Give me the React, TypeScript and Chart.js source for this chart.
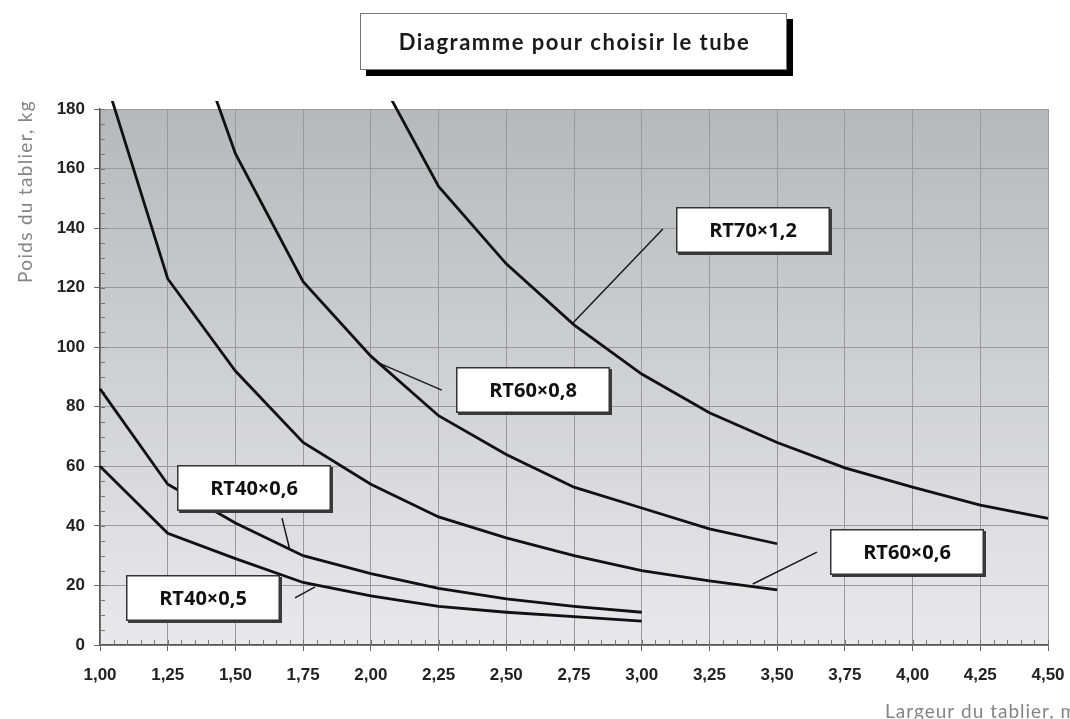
import React, { useEffect, useRef } from "react";
import { Chart, registerables } from "chart.js";

Chart.register(...registerables);

// ---- data ----
const widths40 = [1.0, 1.25, 1.5, 1.75, 2.0, 2.25, 2.5, 2.75, 3.0];
const rt40x05 = [60, 37.5, 29, 21, 16.5, 13, 11, 9.5, 8];
const rt40x06 = [86, 54, 41, 30, 24, 19, 15.5, 13, 11];

const widths60x06 = [1.0, 1.25, 1.5, 1.75, 2.0, 2.25, 2.5, 2.75, 3.0, 3.25, 3.5];
const rt60x06 = [196, 123, 92, 68, 54, 43, 36, 30, 25, 21.5, 18.5];

const widths60x08 = [1.25, 1.5, 1.75, 2.0, 2.25, 2.5, 2.75, 3.0, 3.25, 3.5];
const rt60x08 = [229, 165, 122, 97, 77, 64, 53, 46, 39, 34];

const widths70x12 = [2.0, 2.25, 2.5, 2.75, 3.0, 3.25, 3.5, 3.75, 4.0, 4.25, 4.5];
const rt70x12 = [196, 154, 128, 107.5, 91, 78, 68, 59.5, 53, 47, 42.5];

const seriesNames = ["RT40×0,5", "RT40×0,6", "RT60×0,6", "RT60×0,8", "RT70×1,2"];

const xTicks = [1.0, 1.25, 1.5, 1.75, 2.0, 2.25, 2.5, 2.75, 3.0, 3.25, 3.5, 3.75, 4.0, 4.25, 4.5];
const yTicks = [0, 20, 40, 60, 80, 100, 120, 140, 160, 180];

const chartTitle = "Diagramme pour choisir le tube";
const yTitle = "Poids du tablier, kg";
const xTitle = "Largeur du tablier, m";

// label callouts: box centre (data units) and leader line (data units)
const callouts = [
  { text: "RT70×1,2", cx: 3.412, cy: 139.4, from: [3.078, 139.7], to: [2.746, 108.1] },
  { text: "RT60×0,8", cx: 2.6, cy: 85.5, from: [2.262, 85.6], to: [2.022, 95.0] },
  { text: "RT40×0,6", cx: 1.57, cy: 52.7, from: [1.672, 42.6], to: [1.701, 31.9] },
  { text: "RT40×0,5", cx: 1.382, cy: 15.9, from: [1.72, 15.8], to: [1.794, 19.5] },
  { text: "RT60×0,6", cx: 3.981, cy: 31.1, from: [3.647, 31.2], to: [3.41, 20.5] },
];

const toPoints = (xs: number[], ys: number[]) => xs.map((x, i) => ({ x, y: ys[i] }));

const fmt = (v: number) => v.toFixed(2).replace(".", ",");

export default function App() {
  const ref = useRef<HTMLCanvasElement>(null);

  useEffect(() => {
    const canvas = ref.current!;
    const series = [
      toPoints(widths40, rt40x05),
      toPoints(widths40, rt40x06),
      toPoints(widths60x06, rt60x06),
      toPoints(widths60x08, rt60x08),
      toPoints(widths70x12, rt70x12),
    ];

    const bgPlugin = {
      id: "bg",
      beforeDraw(chart: any) {
        const { ctx, chartArea: a } = chart;
        const g = ctx.createLinearGradient(0, a.top, 0, a.bottom);
        g.addColorStop(0, "#b7b8bb");
        g.addColorStop(1, "#e9e9eb");
        ctx.save();
        ctx.fillStyle = g;
        ctx.fillRect(a.left, a.top, a.right - a.left, a.bottom - a.top);
        ctx.restore();
      },
    };

    const minorTicks = {
      id: "minorTicks",
      beforeDatasetsDraw(chart: any) {
        const { ctx, chartArea: a, scales } = chart;
        ctx.save();
        ctx.strokeStyle = "#777";
        ctx.lineWidth = 1;
        ctx.beginPath();
        for (let v = 0; v <= 180; v += 5) {
          const y = Math.round(scales.y.getPixelForValue(v)) + 0.5;
          ctx.moveTo(a.left, y);
          ctx.lineTo(a.left + 5, y);
        }
        for (let i = 0; i <= 70; i++) {
          const x = Math.round(scales.x.getPixelForValue(1 + i * 0.05)) + 0.5;
          ctx.moveTo(x, a.bottom);
          ctx.lineTo(x, a.bottom - 5);
        }
        ctx.stroke();
        ctx.restore();
      },
    };

    const annotations = {
      id: "annotations",
      afterDatasetsDraw(chart: any) {
        const { ctx, scales } = chart;
        const px = (v: number) => scales.x.getPixelForValue(v);
        const py = (v: number) => scales.y.getPixelForValue(v);
        ctx.save();
        callouts.forEach((c) => {
          ctx.strokeStyle = "#1a1a1a";
          ctx.lineWidth = 1.5;
          ctx.beginPath();
          ctx.moveTo(px(c.from[0]), py(c.from[1]));
          ctx.lineTo(px(c.to[0]), py(c.to[1]));
          ctx.stroke();
          const w = 154;
          const h = 46;
          const x0 = Math.round(px(c.cx) - w / 2);
          const y0 = Math.round(py(c.cy) - h / 2);
          ctx.fillStyle = "#3a3a3a";
          ctx.fillRect(x0 + 2, y0 + 2, w, h);
          ctx.fillStyle = "#ffffff";
          ctx.fillRect(x0, y0, w, h);
          ctx.strokeStyle = "#333";
          ctx.lineWidth = 1.5;
          ctx.strokeRect(x0 + 0.75, y0 + 0.75, w - 1.5, h - 1.5);
          ctx.fillStyle = "#111";
          ctx.font = "bold 20px 'Open Sans'";
          ctx.textAlign = "center";
          ctx.textBaseline = "middle";
          ctx.fillText(c.text, x0 + w / 2, y0 + h / 2 + 1);
        });
        ctx.restore();
      },
      afterDraw(chart: any) {
        const { ctx, chartArea: a } = chart;
        ctx.save();
        // title box
        const cx = (a.left + a.right) / 2 - 1;
        const bw = 427;
        const bh = 57;
        const bx = Math.round(cx - bw / 2);
        const by = 13;
        ctx.fillStyle = "#000";
        ctx.fillRect(bx + 6, by + 6, bw, bh);
        ctx.fillStyle = "#fff";
        ctx.fillRect(bx, by, bw, bh);
        ctx.strokeStyle = "#777";
        ctx.lineWidth = 1;
        ctx.strokeRect(bx + 0.5, by + 0.5, bw - 1, bh - 1);
        ctx.fillStyle = "#1a1a1a";
        ctx.font = "bold 22px Lato";
        (ctx as any).letterSpacing = "1.5px";
        ctx.textAlign = "center";
        ctx.textBaseline = "middle";
        ctx.fillText(chartTitle, bx + bw / 2 + 1, by + bh / 2 + 1);
        // axis titles
        ctx.fillStyle = "#858585";
        ctx.font = "19px Lato";
        (ctx as any).letterSpacing = "1px";
        ctx.textAlign = "left";
        ctx.textBaseline = "middle";
        ctx.fillText(xTitle, a.right - 163, a.bottom + 67);
        (ctx as any).letterSpacing = "1.3px";
        ctx.save();
        ctx.translate(a.left - 74, a.top - 9);
        ctx.rotate(-Math.PI / 2);
        ctx.textAlign = "right";
        ctx.fillText(yTitle, 0, 0);
        ctx.restore();
        ctx.restore();
      },
    };

    const tickFont = { family: "'Liberation Sans', Arial", size: 17, weight: "bold" as const };

    const chart = new Chart(canvas, {
      type: "line",
      data: {
        datasets: series.map((d, i) => ({
          label: seriesNames[i],
          data: d,
          borderColor: "#111",
          borderWidth: 2.8,
          pointRadius: 0,
          tension: 0,
          fill: false,
          clip: { left: 2, top: 8, right: 2, bottom: 2 } as any,
        })),
      },
      options: {
        animation: false,
        responsive: false,
        layout: { padding: { top: 109, right: 22, left: 0, bottom: 0 } },
        plugins: { legend: { display: false }, tooltip: { enabled: false }, title: { display: false } },
        events: [],
        scales: {
          x: {
            type: "linear",
            min: 1,
            max: 4.5,
            afterBuildTicks: (s: any) => {
              s.ticks = xTicks.map((v) => ({ value: v }));
            },
            afterFit: (s: any) => {
              s.height = 74;
              s.paddingRight = 0;
              s.paddingLeft = 0;
            },
            ticks: {
              callback: (v: any) => fmt(Number(v)),
              font: tickFont,
              color: "#222",
              padding: 14,
              maxRotation: 0,
              autoSkip: false,
            },
            grid: { color: "#9a9a9a", lineWidth: 1, tickLength: 6, tickColor: "#666" },
            border: { color: "#555", width: 1.5 },
          },
          y: {
            type: "linear",
            min: 0,
            max: 180,
            afterBuildTicks: (s: any) => {
              s.ticks = yTicks.map((v) => ({ value: v }));
            },
            afterFit: (s: any) => {
              s.width = 100;
              s.paddingTop = 0;
              s.paddingBottom = 0;
            },
            ticks: { font: tickFont, color: "#222", padding: 9, autoSkip: false },
            grid: { color: "#9a9a9a", lineWidth: 1, tickLength: 6, tickColor: "#666" },
            border: { color: "#555", width: 1.5 },
          },
        },
      },
      plugins: [bgPlugin, minorTicks, annotations],
    } as any);

    return () => chart.destroy();
  }, []);

  return (
    <div style={{ position: "fixed", left: 0, top: 0, width: 1070, height: 719, background: "#fff" }}>
      <canvas ref={ref} width={1070} height={719} style={{ display: "block" }} />
    </div>
  );
}
